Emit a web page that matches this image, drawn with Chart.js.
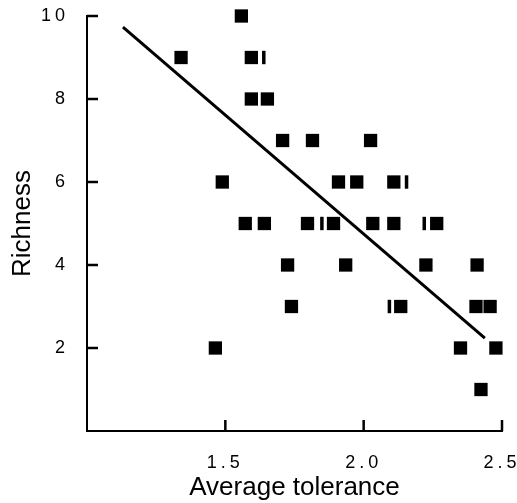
<!DOCTYPE html>
<html>
<head>
<meta charset="utf-8">
<script src="https://cdn.jsdelivr.net/npm/chart.js@4/dist/chart.umd.min.js"></script>
<style>
  html, body { margin: 0; padding: 0; background: #fff; }
  canvas { display: block; }
</style>
</head>
<body>
<canvas id="my-chart" width="517" height="503"></canvas>
<script>
// sites: average tolerance vs richness
const tolerance = [
  1.558,
  1.34, 1.594,
  1.594, 1.652,
  1.707, 1.815, 2.025,
  1.489, 1.909, 1.975, 2.109,
  1.572, 1.641, 1.797, 1.891, 2.033, 2.109, 2.264,
  1.725, 1.935, 2.225, 2.41,
  1.739, 2.134, 2.406, 2.457,
  1.464, 2.35, 2.478,
  2.424
];
const richness = [
  10,
  9, 9,
  8, 8,
  7, 7, 7,
  6, 6, 6, 6,
  5, 5, 5, 5, 5, 5, 5,
  4, 4, 4, 4,
  3, 3, 3, 3,
  2, 2, 2,
  1
];
// squares that only show as thin bars in the scan
const barTolerance = [1.639, 1.849, 2.155, 2.219, 2.093];
const barRichness = [9, 5, 6, 5, 3];
// regression line end points
const fitTolerance = [1.13, 2.438];
const fitRichness = [9.73, 2.24];

const xTicks = [1.5, 2.0, 2.5];
const xTickLabels = ['1.5', '2.0', '2.5'];
const yTicks = [2, 4, 6, 8, 10];

const toPoints = (xs, ys) => xs.map((x, i) => ({ x: x, y: ys[i] }));

// tick labels in the figure are set with wide letter spacing
const spacedTicks = {
  id: 'spacedTicks',
  beforeDraw(chart) {
    Object.values(chart.scales).forEach(scale => {
      if (scale._spaced) return;
      const drawLabels = scale.drawLabels.bind(scale);
      scale.drawLabels = function (area) {
        const ctx = this.ctx;
        ctx.save();
        ctx.letterSpacing = '4px';
        drawLabels(area);
        ctx.restore();
      };
      scale._spaced = true;
    });
  }
};

// tick marks point into the plot
const innerTicks = {
  id: 'innerTicks',
  afterDraw(chart) {
    const { ctx, chartArea } = chart;
    const x = chart.scales.x, y = chart.scales.y;
    ctx.save();
    ctx.strokeStyle = '#000';
    ctx.lineWidth = 2.5;
    ctx.beginPath();
    xTicks.forEach(v => {
      const px = x.getPixelForValue(v);
      ctx.moveTo(px, chartArea.bottom);
      ctx.lineTo(px, chartArea.bottom - 11);
    });
    yTicks.forEach(v => {
      const py = y.getPixelForValue(v);
      ctx.moveTo(chartArea.left, py);
      ctx.lineTo(chartArea.left + 11, py);
    });
    ctx.stroke();
    ctx.restore();
  }
};

const noScalePadding = scale => {
  scale.paddingTop = 0;
  scale.paddingBottom = 0;
  scale.paddingLeft = 0;
  scale.paddingRight = 0;
};

const ctx = document.getElementById('my-chart').getContext('2d');
const chart = new Chart(ctx, {
  type: 'scatter',
  data: {
    datasets: [
      {
        label: 'Sites',
        data: toPoints(tolerance, richness),
        pointStyle: 'rect',
        pointRadius: 9.4,
        borderWidth: 0,
        backgroundColor: '#000',
        borderColor: '#000',
        clip: false
      },
      {
        label: 'Sites (partly hidden)',
        data: toPoints(barTolerance, barRichness),
        pointStyle: 'line',
        rotation: 90,
        pointRadius: 6.7,
        borderWidth: 3.5,
        borderColor: '#000',
        backgroundColor: '#000',
        clip: false
      },
      {
        type: 'line',
        label: 'Fit',
        data: toPoints(fitTolerance, fitRichness),
        borderColor: '#000',
        borderWidth: 3,
        pointRadius: 0,
        fill: false,
        tension: 0
      }
    ]
  },
  options: {
    responsive: false,
    animation: false,
    events: [],
    layout: { padding: { top: 16, right: 15, left: 0, bottom: 0 } },
    plugins: {
      legend: { display: false },
      tooltip: { enabled: false }
    },
    scales: {
      x: {
        type: 'linear',
        min: 1.0,
        max: 2.5,
        afterBuildTicks: scale => { scale.ticks = xTicks.map(v => ({ value: v })); },
        afterFit: scale => { scale.height = 72; noScalePadding(scale); },
        border: { display: true, color: '#000', width: 2 },
        grid: { display: false },
        ticks: {
          color: '#000',
          padding: 13,
          font: { family: '"Liberation Sans", Arial, sans-serif', size: 18 },
          callback: (value) => xTickLabels[xTicks.indexOf(value)]
        },
        title: {
          display: true,
          text: 'Average tolerance',
          color: '#000',
          padding: { top: 0, bottom: 0 },
          font: { family: '"Liberation Sans", Arial, sans-serif', size: 26 }
        }
      },
      y: {
        type: 'linear',
        min: 0,
        max: 10,
        afterBuildTicks: scale => { scale.ticks = yTicks.map(v => ({ value: v })); },
        afterFit: scale => { scale.width = 87; noScalePadding(scale); },
        border: { display: true, color: '#000', width: 2 },
        grid: { display: false },
        ticks: {
          color: '#000',
          padding: 10,
          font: { family: '"Liberation Sans", Arial, sans-serif', size: 18 }
        },
        title: {
          display: true,
          text: 'Richness',
          color: '#000',
          padding: { top: 7, bottom: 0 },
          font: { family: '"Liberation Sans", Arial, sans-serif', size: 26 }
        }
      }
    }
  },
  plugins: [spacedTicks, innerTicks]
});
</script>
</body>
</html>
